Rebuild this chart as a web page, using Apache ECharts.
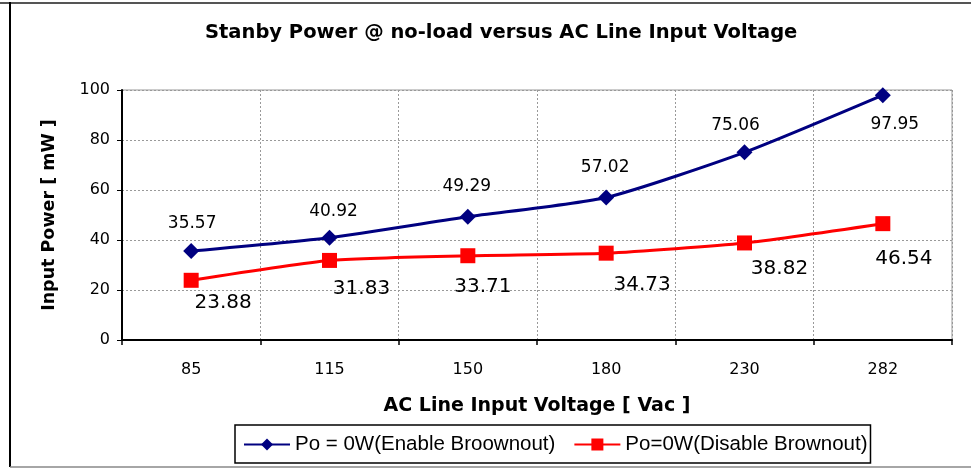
<!DOCTYPE html>
<html>
<head>
<meta charset="utf-8">
<script src="https://cdn.jsdelivr.net/npm/echarts@6/dist/echarts.min.js"></script>
<style>
  html, body { margin: 0; padding: 0; background: #fff; }
  #chart { width: 971px; height: 468px; }
</style>
</head>
<body>
<div id="chart"></div>
<script>
// AC line input voltages (Vac)
const voltages = ['85', '115', '150', '180', '230', '282'];
// Standby input power at no load (mW)
const enableBrownout = [35.57, 40.92, 49.29, 57.02, 75.06, 97.95];
const disableBrownout = [23.88, 31.83, 33.71, 34.73, 38.82, 46.54];
// Y axis ticks
const yMin = 0, yMax = 100, yStep = 20;

// Per-point label offsets [dx, dy] in pixels
const enableLabelOffsets = [[1, -27], [4, -26], [-1, -30], [-1, -30], [-9, -27], [12, 29]];
const disableLabelOffsets = [[32, 22], [32, 28], [15, 31], [36, 32], [35, 26], [21, 35]];

const WIDE = 'DejaVu Sans, Verdana, sans-serif';
const ARIAL = 'Liberation Sans, Arial, sans-serif';

const chart = echarts.init(document.getElementById('chart'), null, { renderer: 'canvas' });

function buildData(values, offsets, labelStyle) {
  return values.map((v, i) => ({
    value: v,
    label: Object.assign({ offset: offsets[i] }, labelStyle)
  }));
}

chart.setOption({
  backgroundColor: '#fff',
  animation: false,
  title: {
    text: 'Stanby Power @ no-load versus AC Line Input Voltage',
    left: 200,
    top: 18,
    textStyle: { fontFamily: WIDE, fontSize: 19.5, fontWeight: 'bold', color: '#000' }
  },
  grid: {
    left: 122, right: 19, top: 90, bottom: 128,
    show: true, borderColor: '#999', borderWidth: 1, backgroundColor: 'transparent'
  },
  legend: {
    left: 235, top: 425,
    itemWidth: 46, itemHeight: 15, itemGap: 18,
    padding: [9, 3, 8, 8],
    borderColor: '#000', borderWidth: 1.5,
    textStyle: { fontFamily: ARIAL, fontSize: 20.5, color: '#000' },
    data: ['Po = 0W(Enable Broownout)', 'Po=0W(Disable Brownout)']
  },
  xAxis: {
    type: 'category',
    data: voltages,
    boundaryGap: true,
    name: 'AC Line Input Voltage [ Vac ]',
    nameLocation: 'middle',
    nameGap: 57,
    nameTextStyle: { fontFamily: WIDE, fontSize: 19, fontWeight: 'bold', color: '#000' },
    axisLine: { lineStyle: { color: '#000', width: 2 } },
    axisTick: { show: true, length: 5, lineStyle: { color: '#000', width: 1.5 } },
    axisLabel: { fontFamily: WIDE, fontSize: 16, color: '#000', margin: 22 },
    splitLine: { show: true, lineStyle: { color: '#999', type: [2, 2], width: 1 } }
  },
  yAxis: {
    type: 'value',
    min: yMin, max: yMax, interval: yStep,
    name: 'Input Power [ mW ]',
    nameLocation: 'middle',
    nameGap: 64,
    nameRotate: 90,
    nameTextStyle: { fontFamily: WIDE, fontSize: 17.5, fontWeight: 'bold', color: '#000' },
    axisLine: { show: true, lineStyle: { color: '#000', width: 2 } },
    axisTick: { show: true, length: 5, lineStyle: { color: '#000', width: 1 } },
    axisLabel: { fontFamily: WIDE, fontSize: 16, color: '#000', margin: 12 },
    splitLine: { show: true, lineStyle: { color: '#999', type: [2, 2], width: 1 } }
  },
  series: [
    {
      name: 'Po = 0W(Enable Broownout)',
      type: 'line',
      smooth: 0.2,
      symbol: 'diamond',
      symbolSize: 16,
      z: 3,
      itemStyle: { color: '#000080' },
      lineStyle: { color: '#000080', width: 3 },
      label: { show: true },
      data: buildData(enableBrownout, enableLabelOffsets, {
        show: true, position: 'inside',
        fontFamily: WIDE, fontSize: 17, color: '#000',
        backgroundColor: '#fff', padding: [1, 3]
      })
    },
    {
      name: 'Po=0W(Disable Brownout)',
      type: 'line',
      smooth: 0.2,
      symbol: 'rect',
      symbolSize: 15,
      z: 2,
      itemStyle: { color: '#ff0000' },
      lineStyle: { color: '#ff0000', width: 3 },
      label: { show: true },
      data: buildData(disableBrownout, disableLabelOffsets, {
        show: true, position: 'inside',
        fontFamily: WIDE, fontSize: 20, color: '#000'
      })
    }
  ],
  graphic: [
    { type: 'line', shape: { x1: 0, y1: 3, x2: 971, y2: 3 }, style: { stroke: '#555', lineWidth: 2 }, silent: true },
    { type: 'line', shape: { x1: 10, y1: 2, x2: 10, y2: 467 }, style: { stroke: '#000', lineWidth: 2 }, silent: true },
    { type: 'line', shape: { x1: 10, y1: 467, x2: 971, y2: 467 }, style: { stroke: '#888', lineWidth: 1.5 }, silent: true }
  ]
});
</script>
</body>
</html>
